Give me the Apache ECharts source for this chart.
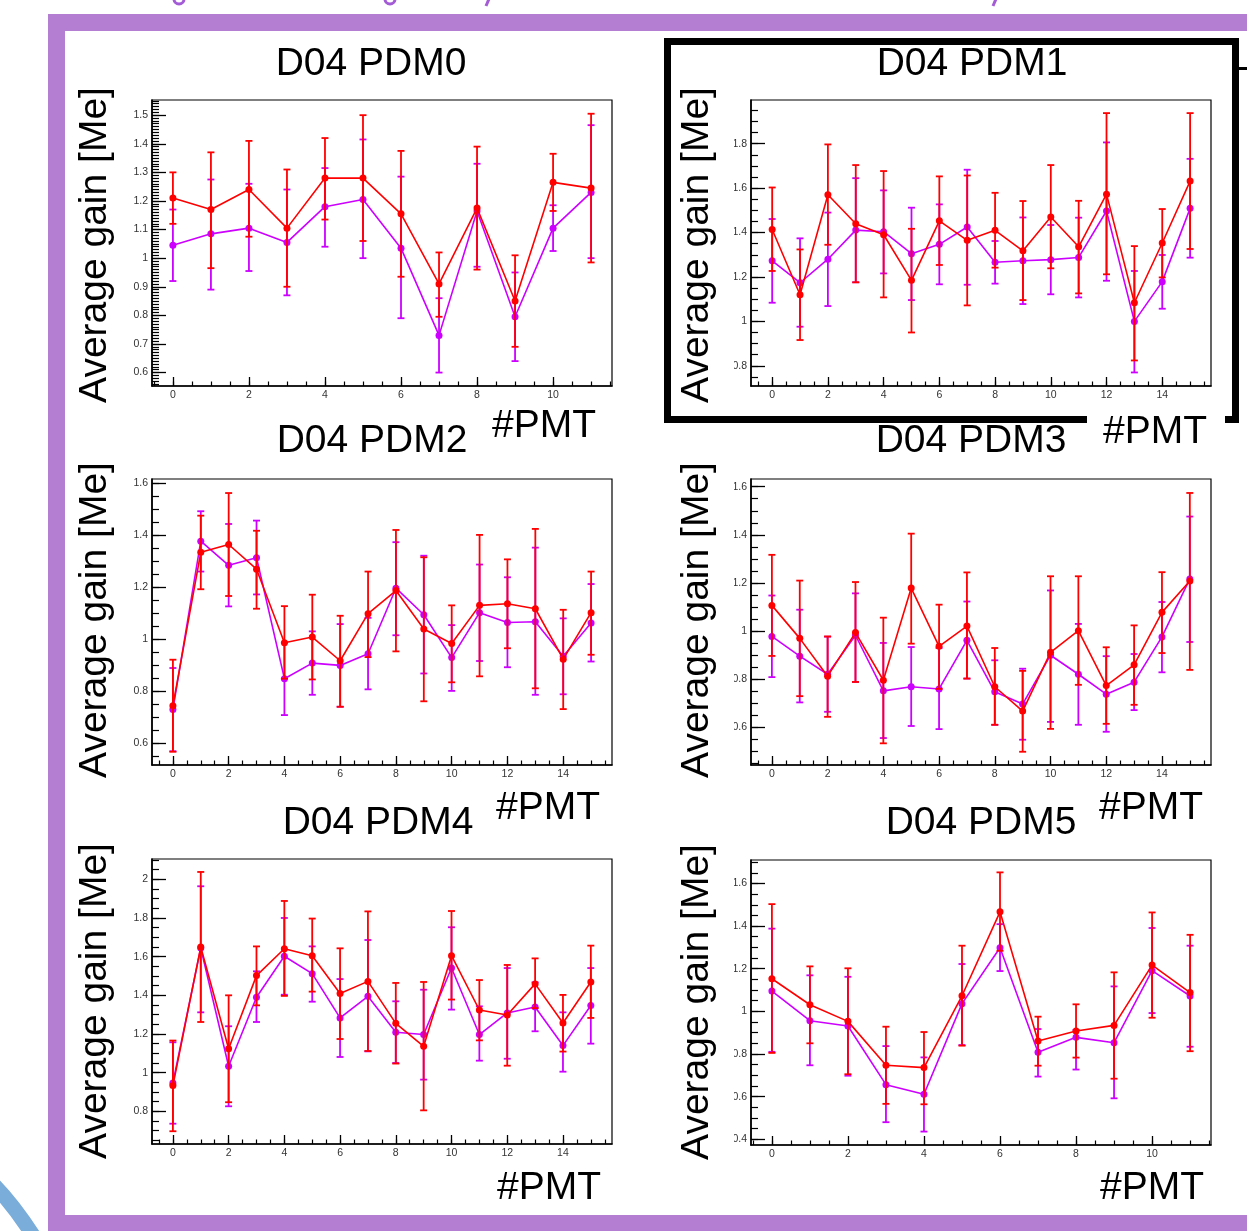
<!DOCTYPE html>
<html>
<head>
<meta charset="utf-8">
<title>D04 PDM average gain</title>
<script src="https://cdn.jsdelivr.net/npm/echarts@6/dist/echarts.min.js"></script>
<style>
  html, body { margin: 0; padding: 0; background: #fff; }
  #chart { width: 1247px; height: 1231px; }
</style>
</head>
<body>
<div id="chart"></div>
<script>
// PMT numbers on the x axis
var pmt12 = [0, 1, 2, 3, 4, 5, 6, 7, 8, 9, 10, 11];
var pmt16 = [0, 1, 2, 3, 4, 5, 6, 7, 8, 9, 10, 11, 12, 13, 14, 15];
var xTicks12 = [0, 2, 4, 6, 8, 10];
var xTicks16 = [0, 2, 4, 6, 8, 10, 12, 14];

// y tick labels
var pdm0YTicks = [0.6, 0.7, 0.8, 0.9, 1, 1.1, 1.2, 1.3, 1.4, 1.5];
var pdm1YTicks = [0.8, 1, 1.2, 1.4, 1.6, 1.8];
var pdm2YTicks = [0.6, 0.8, 1, 1.2, 1.4, 1.6];
var pdm3YTicks = [0.6, 0.8, 1, 1.2, 1.4, 1.6];
var pdm4YTicks = [0.8, 1, 1.2, 1.4, 1.6, 1.8, 2];
var pdm5YTicks = [0.4, 0.6, 0.8, 1, 1.2, 1.4, 1.6];

// PDM0
var pdm0RedGain = [1.21, 1.17, 1.24, 1.105, 1.28, 1.28, 1.155, 0.91, 1.175, 0.85, 1.265, 1.245];
var pdm0RedLow  = [1.12, 0.965, 1.075, 0.90, 1.135, 1.06, 0.935, 0.795, 0.96, 0.69, 1.165, 0.985];
var pdm0RedHigh = [1.30, 1.37, 1.41, 1.31, 1.42, 1.50, 1.375, 1.02, 1.39, 1.01, 1.365, 1.505];
var pdm0MagGain = [1.045, 1.085, 1.105, 1.055, 1.18, 1.205, 1.035, 0.73, 1.165, 0.795, 1.105, 1.23];
var pdm0MagLow  = [0.92, 0.89, 0.955, 0.87, 1.04, 1.00, 0.79, 0.60, 0.97, 0.64, 1.025, 1.0];
var pdm0MagHigh = [1.17, 1.275, 1.26, 1.24, 1.315, 1.415, 1.285, 0.86, 1.33, 0.95, 1.185, 1.465];

// PDM1
var pdm1RedGain = [1.414, 1.12, 1.57, 1.44, 1.39, 1.185, 1.453, 1.365, 1.41, 1.318, 1.47, 1.336, 1.573, 1.084, 1.353, 1.632];
var pdm1RedLow  = [1.227, 0.916, 1.345, 1.176, 1.108, 0.95, 1.254, 1.072, 1.242, 1.096, 1.239, 1.126, 1.212, 0.824, 1.198, 1.326];
var pdm1RedHigh = [1.603, 1.324, 1.797, 1.704, 1.677, 1.417, 1.653, 1.657, 1.579, 1.542, 1.704, 1.543, 1.938, 1.339, 1.506, 1.938];
var pdm1MagGain = [1.273, 1.174, 1.28, 1.411, 1.404, 1.305, 1.347, 1.425, 1.266, 1.273, 1.278, 1.288, 1.497, 1.0, 1.179, 1.509];
var pdm1MagLow  = [1.084, 0.976, 1.069, 1.176, 1.216, 1.096, 1.167, 1.165, 1.17, 1.078, 1.122, 1.108, 1.183, 0.77, 1.057, 1.287];
var pdm1MagHigh = [1.461, 1.374, 1.49, 1.645, 1.59, 1.512, 1.527, 1.683, 1.362, 1.468, 1.434, 1.467, 1.806, 1.227, 1.299, 1.732];

// PDM2
var pdm2RedGain = [0.745, 1.335, 1.365, 1.27, 0.987, 1.009, 0.918, 1.099, 1.188, 1.04, 0.984, 1.131, 1.137, 1.118, 0.924, 1.103];
var pdm2RedLow  = [0.568, 1.193, 1.167, 1.118, 0.849, 0.846, 0.741, 0.932, 0.954, 0.762, 0.835, 0.858, 0.966, 0.812, 0.732, 0.941];
var pdm2RedHigh = [0.922, 1.476, 1.563, 1.418, 1.128, 1.172, 1.091, 1.261, 1.421, 1.316, 1.131, 1.402, 1.308, 1.425, 1.114, 1.261];
var pdm2MagGain = [0.73, 1.378, 1.285, 1.314, 0.849, 0.909, 0.9, 0.945, 1.197, 1.095, 0.93, 1.103, 1.065, 1.068, 0.935, 1.063];
var pdm2MagLow  = [0.57, 1.261, 1.127, 1.173, 0.709, 0.787, 0.741, 0.808, 1.016, 0.869, 0.802, 0.917, 0.893, 0.787, 0.789, 0.915];
var pdm2MagHigh = [0.89, 1.493, 1.444, 1.457, 0.987, 1.031, 1.059, 1.083, 1.374, 1.322, 1.055, 1.288, 1.239, 1.353, 1.081, 1.213];

// PDM3
var pdm3RedGain = [1.107, 0.97, 0.813, 0.994, 0.796, 1.179, 0.937, 1.021, 0.769, 0.668, 0.912, 1.002, 0.774, 0.86, 1.078, 1.208];
var pdm3RedLow  = [0.897, 0.73, 0.644, 0.789, 0.534, 0.948, 0.76, 0.803, 0.611, 0.499, 0.594, 0.777, 0.615, 0.694, 0.909, 0.839];
var pdm3RedHigh = [1.317, 1.21, 0.978, 1.204, 1.056, 1.405, 1.11, 1.244, 0.93, 0.835, 1.228, 1.228, 0.933, 1.024, 1.245, 1.574];
var pdm3MagGain = [0.978, 0.896, 0.821, 0.983, 0.752, 0.769, 0.76, 0.962, 0.748, 0.697, 0.9, 0.821, 0.738, 0.788, 0.976, 1.217];
var pdm3MagLow  = [0.809, 0.704, 0.665, 0.789, 0.556, 0.606, 0.593, 0.803, 0.611, 0.549, 0.623, 0.611, 0.582, 0.672, 0.829, 0.955];
var pdm3MagHigh = [1.148, 1.089, 0.977, 1.157, 0.951, 0.934, 0.93, 1.123, 0.879, 0.844, 1.169, 1.03, 0.896, 0.905, 1.121, 1.476];

// PDM4
var pdm4RedGain = [0.933, 1.65, 1.124, 1.502, 1.641, 1.605, 1.409, 1.472, 1.255, 1.136, 1.605, 1.324, 1.298, 1.459, 1.257, 1.469];
var pdm4RedLow  = [0.697, 1.262, 0.847, 1.348, 1.397, 1.419, 1.174, 1.112, 1.047, 0.805, 1.378, 1.167, 1.036, 1.334, 1.109, 1.283];
var pdm4RedHigh = [1.166, 2.038, 1.4, 1.653, 1.888, 1.797, 1.643, 1.834, 1.464, 1.469, 1.836, 1.479, 1.557, 1.591, 1.402, 1.657];
var pdm4MagGain = [0.947, 1.645, 1.033, 1.39, 1.602, 1.512, 1.283, 1.395, 1.209, 1.197, 1.541, 1.197, 1.309, 1.34, 1.14, 1.347];
var pdm4MagLow  = [0.736, 1.312, 0.826, 1.262, 1.403, 1.367, 1.081, 1.11, 1.05, 0.964, 1.326, 1.062, 1.072, 1.214, 1.005, 1.15];
var pdm4MagHigh = [1.157, 1.964, 1.24, 1.524, 1.8, 1.653, 1.484, 1.686, 1.369, 1.429, 1.752, 1.343, 1.541, 1.467, 1.312, 1.541];

// PDM5
var pdm5RedGain = [1.153, 1.031, 0.953, 0.747, 0.736, 1.073, 1.467, 0.861, 0.908, 0.934, 1.217, 1.088];
var pdm5RedLow  = [0.805, 0.85, 0.705, 0.566, 0.564, 0.839, 1.284, 0.745, 0.783, 0.684, 0.97, 0.813];
var pdm5RedHigh = [1.503, 1.211, 1.202, 0.928, 0.903, 1.308, 1.652, 0.975, 1.033, 1.183, 1.464, 1.359];
var pdm5MagGain = [1.095, 0.956, 0.931, 0.656, 0.611, 1.036, 1.298, 0.808, 0.878, 0.853, 1.191, 1.072];
var pdm5MagLow  = [0.81, 0.747, 0.698, 0.48, 0.436, 0.842, 1.189, 0.694, 0.727, 0.592, 0.992, 0.834];
var pdm5MagHigh = [1.388, 1.169, 1.162, 0.837, 0.784, 1.222, 1.409, 0.917, 0.912, 1.117, 1.391, 1.308];

var RED = '#ff0000';
var VIOLET = '#cc00ff';
var PURPLE = '#b47fd3';
var FONT = '"Liberation Sans", Arial, Helvetica, sans-serif';

// layout of the six pads
var panels = [
  {title: 'D04 PDM0', pmt: pmt12, xTicks: xTicks12, yTicks: pdm0YTicks, yMinor: 0.01,
   red: [pdm0RedGain, pdm0RedLow, pdm0RedHigh], mag: [pdm0MagGain, pdm0MagLow, pdm0MagHigh],
   left: 152, top: 100, height: 286, xMin: -0.55, xMax: 11.55, yMin: 0.553, yMax: 1.553,
   titleX: 371, titleY: 64, pmtX: 544, pmtY: 426, labelX: 95, labelY: 245},
  {title: 'D04 PDM1', pmt: pmt16, xTicks: xTicks16, yTicks: pdm1YTicks, yMinor: 0.05,
   red: [pdm1RedGain, pdm1RedLow, pdm1RedHigh], mag: [pdm1MagGain, pdm1MagLow, pdm1MagHigh],
   left: 751, top: 100, height: 286, xMin: -0.76, xMax: 15.75, yMin: 0.709, yMax: 1.997,
   titleX: 972, titleY: 64, pmtX: 1155, pmtY: 432, labelX: 697, labelY: 245},
  {title: 'D04 PDM2', pmt: pmt16, xTicks: xTicks16, yTicks: pdm2YTicks, yMinor: 0.05,
   red: [pdm2RedGain, pdm2RedLow, pdm2RedHigh], mag: [pdm2MagGain, pdm2MagLow, pdm2MagHigh],
   left: 152, top: 479, height: 286, xMin: -0.75, xMax: 15.75, yMin: 0.517, yMax: 1.617,
   titleX: 372, titleY: 441, pmtX: 548, pmtY: 808, labelX: 95, labelY: 620},
  {title: 'D04 PDM3', pmt: pmt16, xTicks: xTicks16, yTicks: pdm3YTicks, yMinor: 0.05,
   red: [pdm3RedGain, pdm3RedLow, pdm3RedHigh], mag: [pdm3MagGain, pdm3MagLow, pdm3MagHigh],
   left: 751, top: 479, height: 286, xMin: -0.75, xMax: 15.76, yMin: 0.444, yMax: 1.632,
   titleX: 971, titleY: 441, pmtX: 1151, pmtY: 808, labelX: 697, labelY: 620},
  {title: 'D04 PDM4', pmt: pmt16, xTicks: xTicks16, yTicks: pdm4YTicks, yMinor: 0.05,
   red: [pdm4RedGain, pdm4RedLow, pdm4RedHigh], mag: [pdm4MagGain, pdm4MagLow, pdm4MagHigh],
   left: 152, top: 859, height: 285, xMin: -0.75, xMax: 15.76, yMin: 0.631, yMax: 2.105,
   titleX: 378, titleY: 823, pmtX: 549, pmtY: 1188, labelX: 95, labelY: 1001},
  {title: 'D04 PDM5', pmt: pmt12, xTicks: xTicks12, yTicks: pdm5YTicks, yMinor: 0.05,
   red: [pdm5RedGain, pdm5RedLow, pdm5RedHigh], mag: [pdm5MagGain, pdm5MagLow, pdm5MagHigh],
   left: 751, top: 860, height: 285, xMin: -0.55, xMax: 11.55, yMin: 0.373, yMax: 1.71,
   titleX: 981, titleY: 823, pmtX: 1152, pmtY: 1188, labelX: 697, labelY: 1002}
];

function minorValues(min, max, step) {
  var out = [];
  for (var k = Math.ceil(min / step - 1e-9); k * step <= max + 1e-9; k++) {
    out.push(Math.round(k * step * 1000) / 1000);
  }
  return out;
}
function fmt(v) { return String(Math.round(v * 1000) / 1000); }

function errorBar(params, api) {
  var x = api.value(0);
  var lo = api.coord([x, api.value(1)]);
  var hi = api.coord([x, api.value(2)]);
  var cap = 3.5;
  var style = {stroke: api.visual('color'), lineWidth: 1.8};
  return {type: 'group', children: [
    {type: 'line', shape: {x1: lo[0], y1: lo[1], x2: hi[0], y2: hi[1]}, style: style},
    {type: 'line', shape: {x1: lo[0] - cap, y1: lo[1], x2: lo[0] + cap, y2: lo[1]}, style: style},
    {type: 'line', shape: {x1: hi[0] - cap, y1: hi[1], x2: hi[0] + cap, y2: hi[1]}, style: style}
  ]};
}

function text(str, x, y, size, rot) {
  return {type: 'text', x: x, y: y, rotation: rot || 0, z: 20,
    style: {text: str, font: size + 'px ' + FONT, fill: '#000',
      align: 'center', verticalAlign: 'middle', textAlign: 'center', textVerticalAlign: 'middle'}};
}

var grids = [], xAxes = [], yAxes = [], series = [], graphics = [];

panels.forEach(function (p, i) {
  grids.push({left: p.left, top: p.top, width: 460, height: p.height, show: true,
    borderColor: '#000', borderWidth: 1.2, backgroundColor: 'transparent',
    containLabel: false, outerBoundsMode: 'none'});

  xAxes.push({type: 'value', gridIndex: i, position: 'bottom', min: p.xMin, max: p.xMax,
    axisLine: {show: true, onZero: false, lineStyle: {color: '#000', width: 1.6}},
    axisTick: {show: true, inside: true, length: 9, customValues: p.xTicks, lineStyle: {color: '#000', width: 1.3}},
    axisLabel: {show: true, customValues: p.xTicks, formatter: fmt, fontSize: 10.5, color: '#333', margin: 4, fontFamily: FONT},
    splitLine: {show: false}});
  xAxes.push({type: 'value', gridIndex: i, position: 'bottom', min: p.xMin, max: p.xMax,
    axisLine: {show: false, onZero: false},
    axisTick: {show: true, inside: true, length: 4.5, customValues: minorValues(p.xMin, p.xMax, 0.5), lineStyle: {color: '#000', width: 1.2}},
    axisLabel: {show: false}, splitLine: {show: false}});

  yAxes.push({type: 'value', gridIndex: i, position: 'left', min: p.yMin, max: p.yMax,
    axisLine: {show: true, onZero: false, lineStyle: {color: '#000', width: 1.6}},
    axisTick: {show: true, inside: true, length: 14, customValues: p.yTicks, lineStyle: {color: '#000', width: 1.3}},
    axisLabel: {show: true, customValues: p.yTicks, formatter: fmt, fontSize: 10.5, color: '#333', margin: 4, fontFamily: FONT},
    splitLine: {show: false}});
  yAxes.push({type: 'value', gridIndex: i, position: 'left', min: p.yMin, max: p.yMax,
    axisLine: {show: false, onZero: false},
    axisTick: {show: true, inside: true, length: 7, customValues: minorValues(p.yMin, p.yMax, p.yMinor), lineStyle: {color: '#000', width: 1.2}},
    axisLabel: {show: false}, splitLine: {show: false}});

  [[p.mag, VIOLET, 2], [p.red, RED, 4]].forEach(function (s) {
    var set = s[0], color = s[1], z = s[2];
    series.push({type: 'custom', xAxisIndex: 2 * i, yAxisIndex: 2 * i, z: z,
      itemStyle: {color: color}, renderItem: errorBar, encode: {x: 0, y: [1, 2]},
      data: set[0].map(function (v, k) { return [p.pmt[k], set[1][k], set[2][k]]; })});
    series.push({type: 'line', xAxisIndex: 2 * i, yAxisIndex: 2 * i, z: z + 1,
      symbol: 'circle', symbolSize: 7, showSymbol: true,
      itemStyle: {color: color}, lineStyle: {color: color, width: 1.6},
      data: set[0].map(function (v, k) { return [p.pmt[k], v]; })});
  });

  graphics.push(text(p.title, p.titleX, p.titleY, 39));
  graphics.push(text('#PMT', p.pmtX, p.pmtY, 39));
  graphics.push(text('Average gain [Me]', p.labelX, p.labelY, 39, Math.PI / 2));
});

// slide decorations: purple frame, black box round PDM1, blue arc, cut-off title
[
  {x: 48, y: 14, width: 1199, height: 17, fill: PURPLE},
  {x: 48, y: 14, width: 17, height: 1217, fill: PURPLE},
  {x: 48, y: 1215, width: 1199, height: 16, fill: PURPLE},
  {x: 664, y: 38, width: 575, height: 7, fill: '#000'},
  {x: 664, y: 38, width: 7, height: 385, fill: '#000'},
  {x: 1232, y: 38, width: 7, height: 385, fill: '#000'},
  {x: 664, y: 416, width: 423, height: 7, fill: '#000'},
  {x: 1225, y: 416, width: 14, height: 7, fill: '#000'},
  {x: 1239, y: 67, width: 8, height: 3, fill: '#000'},
  {x: 722, y: 95, width: 12, height: 300, fill: '#fff'},
  {x: 722, y: 474, width: 12, height: 300, fill: '#fff'},
  {x: 722, y: 854, width: 12, height: 300, fill: '#fff'}
].forEach(function (r) {
  graphics.push({type: 'rect', z: 30, shape: {x: r.x, y: r.y, width: r.width, height: r.height}, style: {fill: r.fill}});
});
graphics.push({type: 'bezierCurve', z: 30,
  shape: {x1: -8, y1: 1183, x2: 36, y2: 1240, cpx1: 14, cpy1: 1205},
  style: {stroke: '#7aadd9', lineWidth: 15, fill: null}});
[179, 390].forEach(function (cx) {
  graphics.push({type: 'arc', z: 30, shape: {cx: cx, cy: -1, r: 5, startAngle: 0, endAngle: Math.PI},
    style: {stroke: '#a45bd6', lineWidth: 3, fill: null}});
});
[489, 996].forEach(function (cx) {
  graphics.push({type: 'line', z: 30, shape: {x1: cx, y1: -1, x2: cx - 3, y2: 6},
    style: {stroke: '#a45bd6', lineWidth: 3}});
});

var myChart = echarts.init(document.getElementById('chart'), null, {renderer: 'canvas'});
myChart.setOption({
  animation: false,
  backgroundColor: '#fff',
  grid: grids,
  xAxis: xAxes,
  yAxis: yAxes,
  series: series,
  graphic: {elements: graphics}
});
</script>
</body>
</html>
